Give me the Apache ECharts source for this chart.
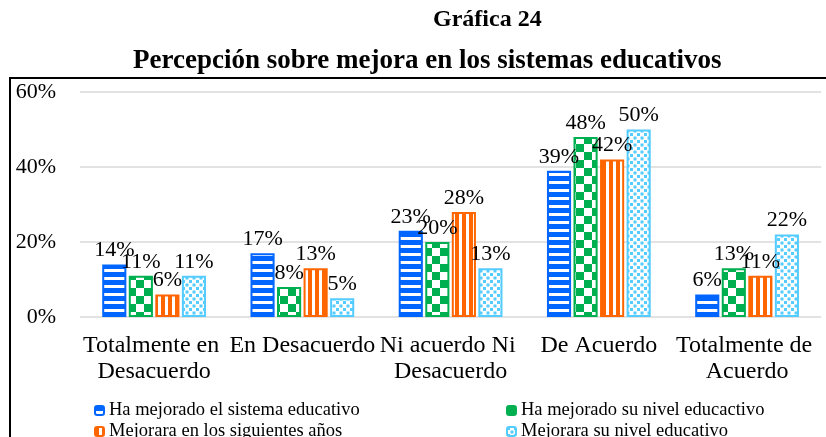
<!DOCTYPE html>
<html>
<head>
<meta charset="utf-8">
<script src="https://cdn.jsdelivr.net/npm/echarts@6/dist/echarts.min.js"></script>
<style>
html,body{margin:0;padding:0;background:#fff;}
#chart{width:826px;height:437px;}
</style>
</head>
<body>
<div id="chart"></div>
<script>
const categories = ["Totalmente en Desacuerdo", "En Desacuerdo", "Ni acuerdo Ni Desacuerdo", "De Acuerdo", "Totalmente de Acuerdo"];
const seriesNames = ["Ha mejorado el sistema educativo", "Ha mejorado su nivel educactivo", "Mejorara en los siguientes años", "Mejorara su nivel educativo"];
const sistemaEducativo = [14, 17, 23, 39, 6];
const nivelEducativo = [11, 8, 20, 48, 13];
const siguientesAnos = [6, 13, 28, 42, 11];
const mejoraraNivel = [11, 5, 13, 50, 22];
const yTicks = [0, 20, 40, 60];

const FONT = '"Liberation Serif", "Times New Roman", serif';
const BLUE = '#0066FF', GREEN = '#00B050', ORANGE = '#FF6600', LBLUE = '#55CCFF';

function pattern(type, color) {
  const c = document.createElement('canvas');
  const ctx = c.getContext('2d');
  if (type === 'h') {
    c.width = 8; c.height = 8;
    ctx.fillStyle = color; ctx.fillRect(0, 0, 8, 8);
    ctx.fillStyle = '#fff'; ctx.fillRect(0, 5, 8, 3);
  } else if (type === 'check') {
    c.width = 16; c.height = 16;
    ctx.fillStyle = '#fff'; ctx.fillRect(0, 0, 16, 16);
    ctx.fillStyle = color; ctx.fillRect(0, 0, 8, 8); ctx.fillRect(8, 8, 8, 8);
  } else if (type === 'v') {
    c.width = 7; c.height = 7;
    ctx.fillStyle = color; ctx.fillRect(0, 0, 7, 7);
    ctx.fillStyle = '#fff'; ctx.fillRect(4, 0, 3, 7);
  } else {
    c.width = 7; c.height = 7;
    ctx.fillStyle = '#fff'; ctx.fillRect(0, 0, 7, 7);
    ctx.fillStyle = color; ctx.fillRect(0, 0, 3, 3); ctx.fillRect(3.5, 3.5, 3, 3);
  }
  return { image: c, repeat: 'repeat' };
}

const seriesData = [sistemaEducativo, nivelEducativo, siguientesAnos, mejoraraNivel];
const seriesStyle = [
  { fill: pattern('h', BLUE), border: BLUE },
  { fill: pattern('check', GREEN), border: GREEN },
  { fill: pattern('v', ORANGE), border: ORANGE },
  { fill: pattern('dot', LBLUE), border: LBLUE }
];

const legendPos = [[89, 396], [501, 396], [89, 417], [501, 417]];
const legends = seriesNames.map((name, i) => ({
  data: [name], left: legendPos[i][0], top: legendPos[i][1],
  itemWidth: 9, itemHeight: 9, itemGap: 4,
  textStyle: { fontFamily: FONT, fontSize: 18.5, color: '#000' }
}));

const chart = echarts.init(document.getElementById('chart'), null, { renderer: 'canvas' });
chart.setOption({
  animation: false,
  backgroundColor: '#fff',
  textStyle: { fontFamily: FONT },
  title: [
    { text: 'Gráfica 24', left: 428, top: 3,
      textStyle: { fontFamily: FONT, fontWeight: 'bold', fontSize: 24, color: '#000' } },
    { text: 'Percepción sobre mejora en los sistemas educativos', left: 128, top: 43,
      textStyle: { fontFamily: FONT, fontWeight: 'bold', fontSize: 27, color: '#000' } }
  ],
  graphic: [
    { type: 'line', shape: { x1: 10, y1: 78, x2: 826, y2: 78 }, style: { stroke: '#000', lineWidth: 2 } },
    { type: 'line', shape: { x1: 10, y1: 77, x2: 10, y2: 437 }, style: { stroke: '#000', lineWidth: 2 } }
  ],
  legend: legends,
  grid: { left: 80, right: 4, top: 92, bottom: 120, containLabel: false },
  xAxis: {
    type: 'category',
    data: categories,
    axisLine: { show: false },
    axisTick: { show: false },
    axisLabel: { interval: 0, color: '#000', fontFamily: FONT, fontSize: 24, lineHeight: 26, margin: 16,
      width: 152, overflow: 'break' }
  },
  yAxis: {
    type: 'value',
    min: yTicks[0], max: yTicks[yTicks.length - 1], interval: 20,
    axisLine: { show: false },
    axisTick: { show: false },
    axisLabel: { formatter: '{value}%', color: '#000', fontFamily: FONT, fontSize: 22, margin: 24 },
    splitLine: { lineStyle: { color: '#D9D9D9', width: 1.5 } }
  },
  series: seriesNames.map((name, i) => ({
    name: name,
    type: 'bar',
    data: seriesData[i],
    barGap: '10%',
    barCategoryGap: '30%',
    itemStyle: { color: seriesStyle[i].fill, borderColor: seriesStyle[i].border, borderWidth: 2 },
    label: { show: true, position: 'top', distance: 3, formatter: '{c}%', color: '#000',
      fontFamily: FONT, fontSize: 22 }
  }))
});
</script>
</body>
</html>
